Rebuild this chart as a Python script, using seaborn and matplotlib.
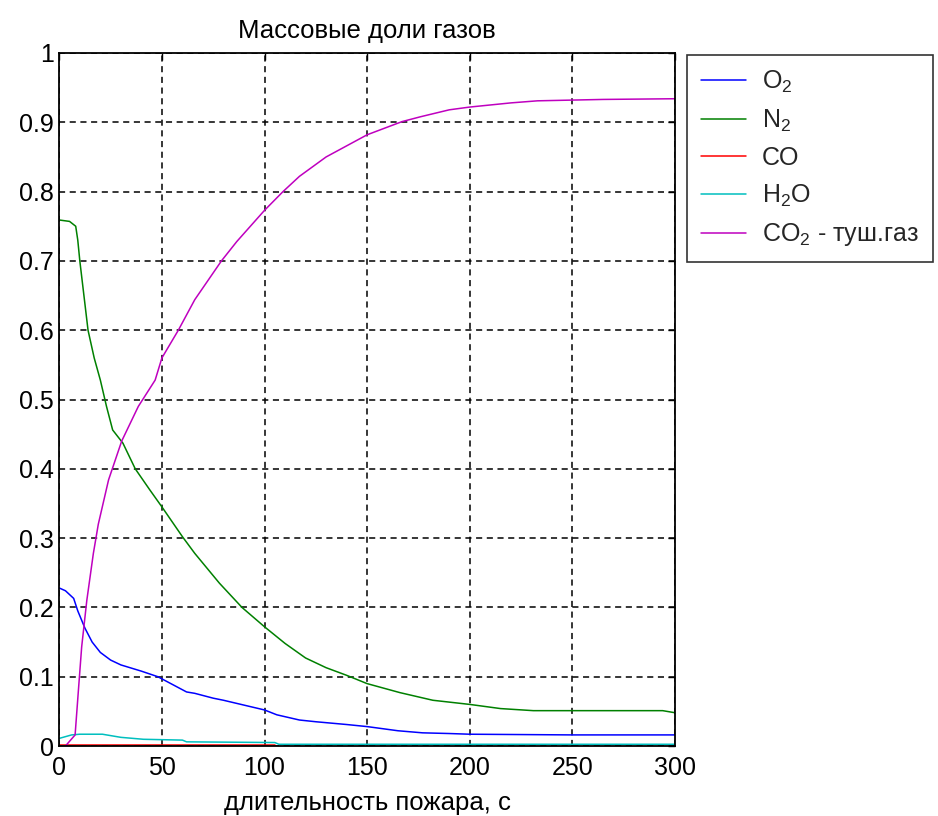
import numpy as np
import pandas as pd
import matplotlib
matplotlib.use("Agg")
import matplotlib.pyplot as plt
import seaborn as sns

# ---- data ----
t_o2 = [0, 3, 7, 9, 12.5, 16, 20, 25, 30, 40, 48, 62, 66, 75, 80, 90, 100, 106, 117, 125, 140, 150, 165, 177, 190, 200, 250, 300]
v_o2 = [0.228, 0.224, 0.213, 0.195, 0.17, 0.15, 0.135, 0.124, 0.117, 0.108, 0.100, 0.078, 0.076, 0.069, 0.066, 0.059, 0.052, 0.045, 0.0375, 0.035, 0.031, 0.028, 0.022, 0.019, 0.018, 0.017, 0.016, 0.016]

t_n2 = [0, 5, 8, 9, 10, 12, 14, 17, 20, 23, 26, 31, 37, 44, 50, 60, 66, 78, 89, 100, 110, 120, 130, 140, 150, 166, 182, 200, 215, 231, 294, 300]
v_n2 = [0.759, 0.757, 0.75, 0.73, 0.70, 0.65, 0.60, 0.56, 0.528, 0.49, 0.456, 0.437, 0.40, 0.37, 0.345, 0.302, 0.278, 0.235, 0.20, 0.172, 0.148, 0.127, 0.113, 0.102, 0.090, 0.077, 0.066, 0.060, 0.054, 0.051, 0.051, 0.048]

t_co = [0, 50, 105]
v_co = [0.002, 0.002, 0.002]

t_h2o = [0, 6, 10, 21, 30, 41, 60, 62, 105, 107, 200, 300]
v_h2o = [0.011, 0.016, 0.017, 0.017, 0.0125, 0.0097, 0.0085, 0.006, 0.005, 0.0025, 0.0025, 0.0025]

t_co2 = [0, 3, 7.7, 9.3, 10.9, 13.4, 16.6, 19, 24, 30.4, 38.5, 46.7, 50, 58, 66, 79, 86.5, 100, 109, 117, 130, 150, 167, 176, 190, 200, 220, 233, 265, 300]
v_co2 = [0.0, 0.0, 0.016, 0.08, 0.143, 0.21, 0.278, 0.32, 0.384, 0.44, 0.49, 0.528, 0.56, 0.60, 0.644, 0.70, 0.728, 0.773, 0.80, 0.822, 0.85, 0.882, 0.901, 0.908, 0.918, 0.922, 0.928, 0.931, 0.933, 0.934]

labels = ["O$_2$", "N$_2$", "CO", "H$_2$O", "CO$_2$ - туш.газ"]
colors = ["#0000ff", "#008000", "#ff0000", "#00bfbf", "#bf00bf"]

x_ticks = [0, 50, 100, 150, 200, 250, 300]
y_ticks = [0, 0.1, 0.2, 0.3, 0.4, 0.5, 0.6, 0.7, 0.8, 0.9, 1]
y_ticklabels = ["0", "0.1", "0.2", "0.3", "0.4", "0.5", "0.6", "0.7", "0.8", "0.9", "1"]

title = "Массовые доли газов"
xlabel = "длительность пожара, с"

# ---- build ----
series = [(t_o2, v_o2), (t_n2, v_n2), (t_co, v_co), (t_h2o, v_h2o), (t_co2, v_co2)]
frames = []
for (tt, vv), lab in zip(series, labels):
    frames.append(pd.DataFrame({"t": tt, "v": vv, "gas": lab}))
df = pd.concat(frames, ignore_index=True)

sns.set_style("white")
plt.rcParams["font.family"] = ["Liberation Sans", "DejaVu Sans"]
plt.rcParams["mathtext.default"] = "regular"

fig = plt.figure(figsize=(9.38, 8.16), dpi=100)
ax = fig.add_axes([59.3 / 938, 1 - 746 / 816, (675 - 59.3) / 938, (746 - 53) / 816])

sns.lineplot(data=df, x="t", y="v", hue="gas", hue_order=labels,
             palette=dict(zip(labels, colors)), linewidth=1.1, ax=ax,
             sort=False, estimator=None)

ax.set_xlim(0, 300)
ax.set_ylim(0, 1)
ax.set_xticks(x_ticks)
ax.set_xticklabels([str(v) for v in x_ticks])
ax.set_yticks(y_ticks)
ax.set_yticklabels(y_ticklabels)
ax.grid(True, color="black", linestyle=(0, (4, 3)), linewidth=1.1)
ax.tick_params(direction="in", length=5, width=1, top=True, right=True,
               labelsize=18, colors="black")
ax.tick_params(axis="x", pad=7)
ax.tick_params(axis="y", pad=4)
for s in ax.spines.values():
    s.set_visible(True)
    s.set_color("black")
    s.set_linewidth(1.3)

ax.set_title(title, fontsize=18.5, pad=11, color="black")
ax.set_xlabel(xlabel, fontsize=18.5, labelpad=8, color="black")
ax.set_ylabel("")

handles, labs = ax.get_legend_handles_labels()
ax.get_legend().remove()
leg = fig.legend(handles, labs, loc="upper left",
                 bbox_to_anchor=(687 / 938, 1 - 55 / 816),
                 bbox_transform=fig.transFigure, borderaxespad=0,
                 fontsize=18, frameon=True, fancybox=False,
                 edgecolor="black", handlelength=1.8, handletextpad=0.65,
                 labelspacing=0.5, borderpad=0.55)
leg.get_frame().set_linewidth(1.2)

fig.savefig("out.png", dpi=100, facecolor="white")
